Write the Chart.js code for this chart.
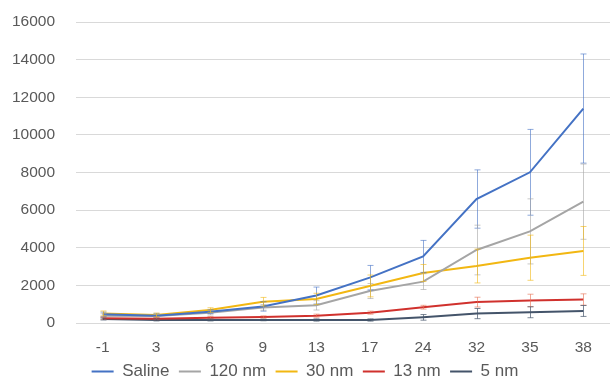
<!DOCTYPE html>
<html>
<head>
<meta charset="utf-8">
<script src="https://cdn.jsdelivr.net/npm/chart.js@4.4.1/dist/chart.umd.min.js"></script>
<style>
html,body{margin:0;padding:0;background:#fff;overflow:hidden;}
#wrap{width:612px;height:390px;position:relative;}
</style>
</head>
<body>
<div id="wrap"><canvas id="c" width="612" height="390"></canvas></div>
<script>
const days = ['-1','3','6','9','13','17','24','32','35','38'];
const yTicks = [0,2000,4000,6000,8000,10000,12000,14000,16000];

const saline    = [460, 390, 600, 880, 1460, 2410, 3540, 6590, 8010, 11400];
const salineErr = [120, 120, 100, 250, 450, 650, 850, 1550, 2280, 2900];
const nm120     = [390, 370, 550, 830, 940, 1700, 2200, 3880, 4870, 6450];
const nm120Err  = [100, 80, 120, 150, 250, 400, 420, 1320, 1730, 2000];
const nm30      = [510, 425, 690, 1130, 1280, 1970, 2660, 3030, 3470, 3830];
const nm30Err   = [130, 100, 120, 230, 300, 580, 450, 900, 1200, 1300];
const nm13      = [250, 230, 280, 320, 390, 550, 840, 1110, 1200, 1250];
const nm13Err   = [60, 60, 60, 60, 80, 80, 100, 260, 330, 300];
const nm5       = [210, 160, 160, 160, 160, 160, 300, 500, 570, 640];
const nm5Err    = [50, 50, 50, 40, 60, 60, 150, 270, 290, 290];

const seriesNames = ['Saline','120 nm','30 nm','13 nm','5 nm'];
const seriesColors = ['#4472C4','#A5A5A5','#F2B712','#D0312D','#44546A'];
const errColors = ['rgba(68,114,196,0.6)','rgba(165,165,165,0.6)','rgba(242,183,18,0.6)','rgba(230,110,80,0.6)','rgba(68,84,106,0.7)'];
const values = [saline, nm120, nm30, nm13, nm5];
const errors = [salineErr, nm120Err, nm30Err, nm13Err, nm5Err];

const FONT = 'Liberation Sans, Arial, sans-serif';

const errorBars = {
  id: 'errorBars',
  afterDatasetsDraw(chart) {
    const ctx = chart.ctx;
    const ys = chart.scales.y;
    chart.data.datasets.forEach((ds, di) => {
      const meta = chart.getDatasetMeta(di);
      ctx.save();
      ctx.strokeStyle = ds.errColor;
      ctx.lineWidth = 1;
      meta.data.forEach((pt, i) => {
        const v = ds.data[i], e = ds.err[i];
        const x = Math.round(pt.x) + 0.5;
        const y1 = ys.getPixelForValue(v + e);
        const y2 = ys.getPixelForValue(Math.max(0, v - e));
        ctx.beginPath();
        ctx.moveTo(x, y1); ctx.lineTo(x, y2);
        ctx.moveTo(x - 3, y1); ctx.lineTo(x + 3, y1);
        ctx.moveTo(x - 3, y2); ctx.lineTo(x + 3, y2);
        ctx.stroke();
      });
      ctx.restore();
    });
  }
};

const datasets = seriesNames.map((n, i) => ({
  label: n,
  data: values[i],
  err: errors[i],
  errColor: errColors[i],
  borderColor: seriesColors[i],
  backgroundColor: seriesColors[i],
  borderWidth: 2,
  pointRadius: 0,
  tension: 0,
  fill: false
}));

new Chart(document.getElementById('c'), {
  type: 'line',
  data: { labels: days, datasets },
  options: {
    responsive: false,
    animation: false,
    layout: { padding: { top: 22, right: 2, left: 0, bottom: 0 } },
    plugins: {
      legend: {
        position: 'bottom',
        labels: {
          usePointStyle: true,
          pointStyle: 'line',
          pointStyleWidth: 22,
          boxHeight: 17,
          padding: 9.5,
          color: '#595959',
          font: { family: FONT, size: 17 }
        }
      },
      tooltip: { enabled: false }
    },
    scales: {
      x: {
        offset: true,
        grid: { display: false, drawTicks: false },
        border: { display: false },
        ticks: { color: '#595959', padding: 15, maxRotation: 0, autoSkip: false,
          font: { family: FONT, size: 15.5 } },
        afterFit(s) { s.height = 30.5; }
      },
      y: {
        min: 0, max: 16000,
        afterBuildTicks(s) { s.ticks = yTicks.map(v => ({ value: v })); },
        grid: { color: '#D9D9D9', drawTicks: true, tickLength: 21, tickColor: 'rgba(0,0,0,0)', lineWidth: 1 },
        border: { display: false },
        ticks: { color: '#595959', padding: 0,
          font: { family: FONT, size: 15.5 },
          callback: v => String(v) },
        afterFit(s) { s.width = 76; }
      }
    }
  },
  plugins: [errorBars]
});
</script>
</body>
</html>
